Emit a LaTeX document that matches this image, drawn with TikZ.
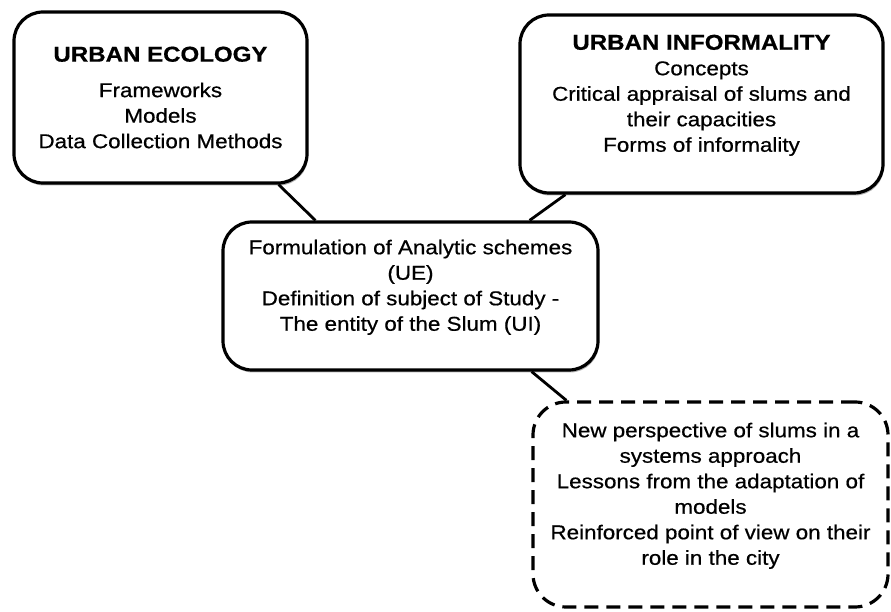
\documentclass[tikz,border=0pt]{standalone}
\usepackage{fontspec}
\setmainfont{Liberation Sans}[FakeStretch=1.12, FakeBold=0.6]
\usetikzlibrary{shadows,backgrounds}
\newcommand{\boxtitle}[1]{{\fontsize{21.5}{25.5}\selectfont\bfseries #1}}
\begin{document}
\begin{tikzpicture}[x=1pt,y=1pt,
  box/.style={draw=black, line width=3.2pt, rounded corners=29pt, fill=white,
    align=center, font=\fontsize{20}{25.5}\selectfont, inner sep=0pt,
    drop shadow={shadow xshift=1pt, shadow yshift=-2.5pt, opacity=0.3, fill=black}},
  dbox/.style={draw=black, line width=3.2pt, rounded corners=33pt, fill=white,
    dash pattern=on 14pt off 8pt,
    align=center, font=\fontsize{20}{25.5}\selectfont, inner sep=0pt},
  link/.style={draw=black, line width=2.8pt}]
\useasboundingbox (0,0) rectangle (891,612);
\node[box, minimum width=293pt, minimum height=171pt] (b1) at (160.5,514.5)
  {\boxtitle{URBAN ECOLOGY}\\[10pt]Frameworks\\Models\\Data Collection Methods};
\node[box, minimum width=363pt, minimum height=178pt] (b2) at (701.5,508)
  {\boxtitle{URBAN INFORMALITY}\\Concepts\\Critical appraisal of slums and\\their capacities\\Forms of informality\\[-4pt]};
\node[box, minimum width=375pt, minimum height=148pt] (b3) at (410.5,316)
  {Formulation of Analytic schemes\\(UE)\\Definition of subject of Study -\\The entity of the Slum (UI)\\[-4pt]};
\node[dbox, minimum width=355pt, minimum height=205pt] (b4) at (710.5,107.5)
  {New perspective of slums in a\\systems approach\\Lessons from the adaptation of\\models\\Reinforced point of view on their\\role in the city\\[-4pt]};
\begin{scope}[on background layer]
\draw[link] ([xshift=-30pt]b1.south east) -- ([xshift=94pt]b3.north west);
\draw[link] ([xshift=47pt]b2.south west) -- ([xshift=-70pt]b3.north east);
\draw[link] ([xshift=-68pt]b3.south east) -- ([xshift=35pt]b4.north west);
\end{scope}
\end{tikzpicture}
\end{document}
